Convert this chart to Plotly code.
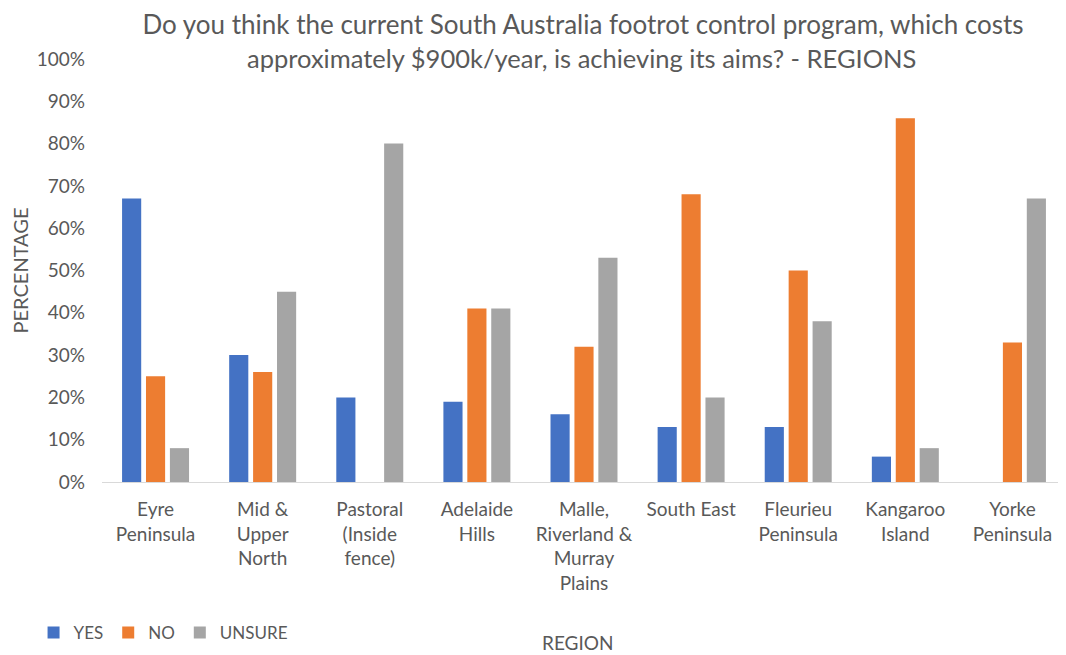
import plotly.graph_objects as go

regions = ["Eyre<br>Peninsula", "Mid &<br>Upper<br>North", "Pastoral<br>(Inside<br>fence)",
           "Adelaide<br>Hills", "Malle,<br>Riverland &<br>Murray<br>Plains", "South East",
           "Fleurieu<br>Peninsula", "Kangaroo<br>Island", "Yorke<br>Peninsula"]
yes = [0.67, 0.30, 0.20, 0.19, 0.16, 0.13, 0.13, 0.06, 0.0]
no = [0.25, 0.26, 0.0, 0.41, 0.32, 0.68, 0.50, 0.86, 0.33]
unsure = [0.08, 0.45, 0.80, 0.41, 0.53, 0.20, 0.38, 0.08, 0.67]

series_names = ["YES", "NO", "UNSURE"]
series_colors = ["#4472C4", "#ED7D31", "#A5A5A5"]

title_line1 = "Do you think the current South Australia footrot control program, which costs"
title_line2 = "approximately $900k/year, is achieving its aims? - REGIONS"

txt = "#595959"
font_family = "Lato, 'Open Sans', sans-serif"

fig = go.Figure()
for name, vals, col in zip(series_names, [yes, no, unsure], series_colors):
    fig.add_trace(go.Bar(x=regions, y=vals, name=name, marker_color=col,
                         marker_line_width=0))

fig.update_layout(
    width=1058, height=647,
    margin=dict(l=94, r=0, t=51, b=173),
    paper_bgcolor="white", plot_bgcolor="white",
    font=dict(family=font_family, color=txt, size=19),
    barmode="group", bargap=0.33, bargroupgap=0.2,
    title=dict(text=title_line1, xref="paper", x=0.499, xanchor="center",
               yref="container", y=1 - 17 / 647, yanchor="middle",
               font=dict(size=26, color=txt)),
    showlegend=True,
    legend=dict(orientation="h", x=-0.071, xanchor="left", y=-0.357, yanchor="middle",
                font=dict(size=17, color=txt), itemwidth=30, traceorder="normal"),
    xaxis=dict(showgrid=False, showline=True, linecolor="#D9D9D9", linewidth=1,
               ticks="", tickfont=dict(size=19, color=txt), tickangle=0,
               ticklabelstandoff=10),
    yaxis=dict(range=[0, 1.0], tickformat=".0%", dtick=0.1, showgrid=False,
               zeroline=False, showline=False, ticks="", ticklabelstandoff=16,
               tickfont=dict(size=19, color=txt),
               title=dict(text="PERCENTAGE", font=dict(size=20, color=txt), standoff=4)),
    annotations=[
        dict(text=title_line2, xref="paper", yref="paper", x=0.497, y=(482 - 58) / 423,
             xanchor="center", yanchor="middle", showarrow=False,
             font=dict(size=25.5, color=txt)),
        dict(text="REGION", xref="paper", yref="paper", x=0.494, y=-0.379,
             xanchor="center", yanchor="middle", showarrow=False,
             font=dict(size=19, color=txt)),
    ],
)

fig.write_html("out.html")
